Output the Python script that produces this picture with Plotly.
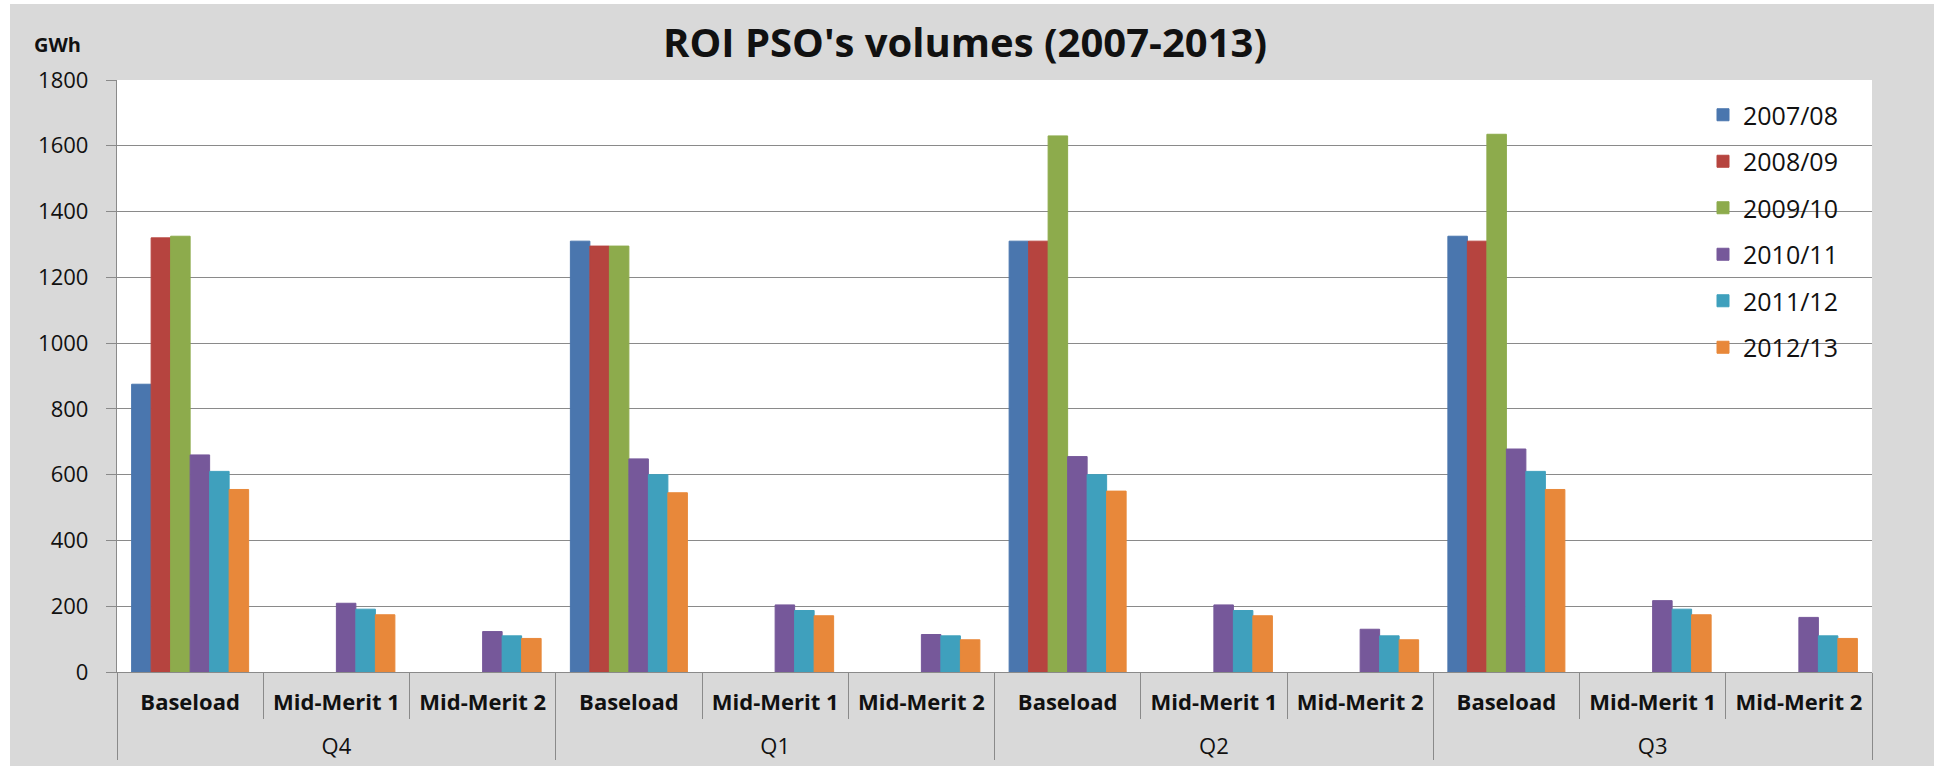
import plotly.graph_objects as go

# Category levels
quarters = ["Q4", "Q1", "Q2", "Q3"]
products = ["Baseload", "Mid-Merit 1", "Mid-Merit 2"]

# Series (GWh) in order Q4, Q1, Q2, Q3 x Baseload, Mid-Merit 1, Mid-Merit 2
series_names = ["2007/08", "2008/09", "2009/10", "2010/11", "2011/12", "2012/13"]
v_2007_08 = [875, None, None, 1310, None, None, 1310, None, None, 1325, None, None]
v_2008_09 = [1320, None, None, 1295, None, None, 1310, None, None, 1310, None, None]
v_2009_10 = [1325, None, None, 1295, None, None, 1630, None, None, 1635, None, None]
v_2010_11 = [660, 209, 123, 648, 204, 114, 655, 204, 130, 678, 217, 166]
v_2011_12 = [610, 191, 110, 600, 187, 110, 600, 187, 110, 610, 191, 110]
v_2012_13 = [555, 174, 102, 545, 171, 98, 550, 171, 98, 555, 174, 102]

colors = ["#4A76AE", "#B6443F", "#8DAB4C", "#76589A", "#3FA0BD", "#E8883A"]

y_ticks = [0, 200, 400, 600, 800, 1000, 1200, 1400, 1600, 1800]

# Inner labels are bold; the taller non-breaking spaces on either side give the
# first label row extra height, which spaces the quarter row further down.
pad_span = "<span style='font-size:38px'>\u00a0</span>"
outer = [q for q in quarters for _ in products]
inner = [pad_span + "<b>%s</b>" % p + pad_span for _ in quarters for p in products]

W, H = 1934, 766
L, R, T, B = 117, 62, 80, 94
pw, ph = W - L - R, H - T - B

def px_x(x):
    return (x - L) / pw

def px_y(y):
    return 1 - (y - T) / ph

fig = go.Figure()
all_values = [v_2007_08, v_2008_09, v_2009_10, v_2010_11, v_2011_12, v_2012_13]
for name, vals, col in zip(series_names, all_values, colors):
    fig.add_trace(go.Bar(
        x=[outer, inner], y=vals, name=name,
        marker=dict(color=col, line=dict(color=col, width=1)),
        legendgroup=name,
    ))

grid = "#8A8A8A"
font_family = "Open Sans"

fig.update_layout(
    width=W, height=H,
    margin=dict(l=L, r=R, t=T, b=B, pad=0, autoexpand=False),
    paper_bgcolor="#D9D9D9",
    plot_bgcolor="#FFFFFF",
    barmode="group", bargap=0.2, bargroupgap=0,
    font=dict(family=font_family, color="#111111"),
    showlegend=True,
    legend=dict(
        x=px_x(1703), xanchor="left", y=px_y(92), yanchor="top",
        bgcolor="rgba(0,0,0,0)", font=dict(size=25, color="#111111"),
        traceorder="grouped", tracegroupgap=11,
    ),
    title=dict(
        text="<b>ROI PSO's volumes (2007-2013)</b>",
        x=px_x(965), xanchor="center", xref="paper",
        y=1 - 43 / H, yanchor="middle",
        font=dict(size=40, color="#111111"),
    ),
)

fig.update_yaxes(
    range=[0, 1800], tickvals=y_ticks, showgrid=True, gridcolor=grid, gridwidth=1.3,
    showline=True, linecolor=grid, linewidth=1.3,
    ticks="outside", ticklen=10, tickcolor=grid, tickwidth=1.3,
    ticklabelstandoff=13, tickfont=dict(size=22, color="#111111"),
    zeroline=False, fixedrange=True, automargin=False,
)
fig.update_xaxes(
    type="multicategory", showline=True, linecolor=grid, linewidth=1.3,
    ticks="outside", tickson="boundaries", ticklen=46, tickcolor=grid, tickwidth=1.3,
    ticklabelstandoff=10, tickangle=0,
    showdividers=True, dividercolor=grid, dividerwidth=1.3,
    tickfont=dict(size=22, color="#111111"),
    showgrid=False, fixedrange=True, automargin=False,
)

# Unit label above the value axis
fig.add_annotation(
    text="<b>GWh</b>", xref="paper", yref="paper", x=px_x(58), y=px_y(45),
    xanchor="center", yanchor="middle", showarrow=False,
    font=dict(size=20, color="#111111"),
)

# White page strips around the grey chart panel
fig.add_shape(type="rect", xref="paper", yref="paper", layer="below",
              x0=px_x(0), x1=px_x(10), y0=px_y(H), y1=px_y(0),
              fillcolor="#FFFFFF", line_width=0)
fig.add_shape(type="rect", xref="paper", yref="paper", layer="below",
              x0=px_x(0), x1=px_x(W), y0=px_y(4), y1=px_y(0),
              fillcolor="#FFFFFF", line_width=0)

fig.write_html("out.html")
